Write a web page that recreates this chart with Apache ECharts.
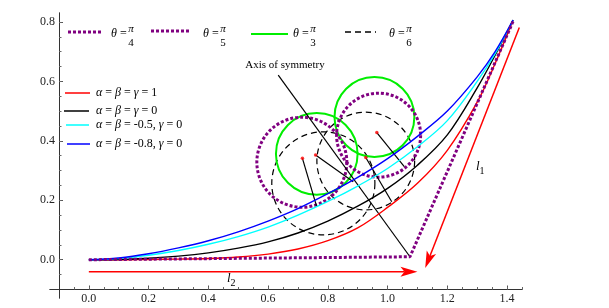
<!DOCTYPE html>
<html><head><meta charset="utf-8">
<script src="https://cdn.jsdelivr.net/npm/echarts@6/dist/echarts.min.js"></script>
<style>html,body{margin:0;padding:0;background:#fff}#c{width:609px;height:308px}</style>
</head><body><div id="c"></div>
<script>
// ---------- data ----------
const xTickValues = [0, 0.2, 0.4, 0.6, 0.8, 1.0, 1.2, 1.4];
const yTickValues = [0, 0.2, 0.4, 0.6, 0.8];
const xMinorTicks = [-0.05, 0, 0.05, 0.1, 0.15, 0.2, 0.25, 0.3, 0.35, 0.4, 0.45, 0.5, 0.55, 0.6, 0.65, 0.7, 0.75, 0.8, 0.85, 0.9, 0.95, 1.0, 1.05, 1.1, 1.15, 1.2, 1.25, 1.3, 1.35, 1.4, 1.45];
const yMinorTicks = [-0.05, 0, 0.05, 0.1, 0.15, 0.2, 0.25, 0.3, 0.35, 0.4, 0.45, 0.5, 0.55, 0.6, 0.65, 0.7, 0.75, 0.8];

const curveX = [0, 0.1, 0.2, 0.3, 0.4, 0.5, 0.6, 0.7, 0.8, 0.9, 1.0, 1.1, 1.2, 1.3, 1.36, 1.42];
const redY   = [0, 0.000, 0.001, 0.002, 0.004, 0.009, 0.019, 0.036, 0.064, 0.107, 0.176, 0.257, 0.368, 0.530, 0.660, 0.806];
const blackY = [0, 0.001, 0.005, 0.012, 0.023, 0.039, 0.060, 0.090, 0.130, 0.180, 0.240, 0.318, 0.420, 0.578, 0.688, 0.806];
const cyanY  = [0, 0.004, 0.015, 0.031, 0.052, 0.078, 0.110, 0.150, 0.196, 0.248, 0.307, 0.380, 0.468, 0.600, 0.693, 0.806];
const blueY  = [0, 0.006, 0.020, 0.040, 0.064, 0.094, 0.130, 0.172, 0.222, 0.277, 0.340, 0.415, 0.500, 0.615, 0.700, 0.806];

const purplePathX = [0, 1.075, 1.422];
const purplePathY = [0, 0.010, 0.806];

// circles: [centerX, centerY, radius]
const greenCircles  = [[0.763, 0.356, 0.137], [0.956, 0.480, 0.134]];
const purpleCircles = [[0.713, 0.328, 0.151], [0.970, 0.419, 0.141]];
const dashedCircles = [[0.785, 0.257, 0.173], [0.927, 0.332, 0.164]];

const centerDots = [[0.715, 0.341], [0.759, 0.352], [0.927, 0.344], [0.964, 0.428]];

// segments: [x1, y1, x2, y2]
const blackSegments = [
  [0.634, 0.621, 1.075, 0.010],   // axis of symmetry
  [0.715, 0.341, 0.763, 0.178],
  [0.759, 0.352, 0.885, 0.262],
  [0.927, 0.344, 1.014, 0.195],
  [0.964, 0.428, 1.056, 0.313]
];
const arrowSegments = [
  [0, -0.040, 1.100, -0.040],     // l2
  [1.441, 0.781, 1.126, -0.028]   // l1
];

const topLegendDen = ['4', '5', '3', '6'];
const sideLegendLabels = [
  '{i|α} = {i|β} = {i|γ} = 1',
  '{i|α} = {i|β} = {i|γ} = 0',
  '{i|α} = {i|β} = -0.5, {i|γ} = 0',
  '{i|α} = {i|β} = -0.8, {i|γ} = 0'
];

// ---------- chart ----------
const serif = '"Liberation Serif","DejaVu Serif",serif';
const PURPLE = '#800080';
const pairs = (xs, ys) => xs.map((x, i) => [x, ys[i]]);

const chart = echarts.init(document.getElementById('c'));

function circleSeries(data, style) {
  return {
    type: 'custom', coordinateSystem: 'cartesian2d', data: data, silent: true,
    renderItem: function (params, api) {
      const c = api.coord([api.value(0), api.value(1)]);
      const s = api.size([api.value(2), api.value(2)]);
      return { type: 'circle', shape: { cx: c[0], cy: c[1], r: (s[0] + s[1]) / 2 },
        style: Object.assign({ fill: 'none' }, style) };
    }
  };
}

const baseX = { type: 'value', min: -0.13, max: 1.45, position: 'bottom', offset: -8.5,
  splitLine: { show: false }, axisLine: { onZero: false, lineStyle: { color: '#333', width: 1 } } };
const baseY = { type: 'value', min: -0.1287, max: 0.83, position: 'left', offset: -9,
  splitLine: { show: false }, axisLine: { onZero: false, lineStyle: { color: '#333', width: 1 } } };

const labelStyle = { fontFamily: serif, fontSize: 12, color: '#222' };

function curve(ys, color) {
  return { type: 'line', data: pairs(curveX, ys), showSymbol: false, smooth: 0.35,
    lineStyle: { color: color, width: 1.4 } };
}

const option = {
  animation: false,
  grid: { left: 50, right: 87, top: 13, bottom: 10, containLabel: false },
  xAxis: [
    Object.assign({}, baseX, {
      axisTick: { inside: true, length: 4, customValues: xTickValues, lineStyle: { color: '#555' } },
      axisLabel: Object.assign({ customValues: xTickValues, margin: 3, formatter: v => v.toFixed(1) }, labelStyle)
    }),
    Object.assign({}, baseX, {
      axisTick: { inside: true, length: 2.5, customValues: xMinorTicks, lineStyle: { color: '#666' } },
      axisLabel: { show: false }
    })
  ],
  yAxis: [
    Object.assign({}, baseY, {
      axisTick: { inside: true, length: 4, customValues: yTickValues, lineStyle: { color: '#555' } },
      axisLabel: Object.assign({ customValues: yTickValues, margin: 4, formatter: v => v.toFixed(1) }, labelStyle)
    }),
    Object.assign({}, baseY, {
      axisTick: { inside: true, length: 2.5, customValues: yMinorTicks, lineStyle: { color: '#666' } },
      axisLabel: { show: false }
    })
  ],
  series: [
    curve(redY, '#ff0000'),
    curve(blackY, '#000000'),
    curve(cyanY, '#00ffff'),
    curve(blueY, '#0000ff'),
    circleSeries(dashedCircles, { stroke: '#000', lineWidth: 1.2, lineDash: [6, 4] }),
    circleSeries(greenCircles, { stroke: '#00ee00', lineWidth: 2 }),
    circleSeries(purpleCircles, { stroke: PURPLE, lineWidth: 3, lineDash: [3, 2] }),
    { type: 'line', data: pairs(purplePathX, purplePathY), showSymbol: false,
      lineStyle: { color: PURPLE, width: 3, type: [3, 2] } },
    {
      type: 'custom', coordinateSystem: 'cartesian2d', data: blackSegments, silent: true,
      renderItem: function (params, api) {
        const a = api.coord([api.value(0), api.value(1)]);
        const b = api.coord([api.value(2), api.value(3)]);
        return { type: 'line', shape: { x1: a[0], y1: a[1], x2: b[0], y2: b[1] },
          style: { stroke: '#000', lineWidth: 1.2 } };
      }
    },
    {
      type: 'custom', coordinateSystem: 'cartesian2d', data: arrowSegments, silent: true,
      renderItem: function (params, api) {
        const a = api.coord([api.value(0), api.value(1)]);
        const b = api.coord([api.value(2), api.value(3)]);
        const dx = b[0] - a[0], dy = b[1] - a[1];
        const L = Math.sqrt(dx * dx + dy * dy), ux = dx / L, uy = dy / L;
        const px = -uy, py = ux;
        const len = 17, hw = 5, notch = 13;
        const base = [b[0] - ux * len, b[1] - uy * len];
        const nb = [b[0] - ux * notch, b[1] - uy * notch];
        return { type: 'group', children: [
          { type: 'line', shape: { x1: a[0], y1: a[1], x2: nb[0], y2: nb[1] },
            style: { stroke: '#ff0000', lineWidth: 1.5 } },
          { type: 'polygon', shape: { points: [b, [base[0] + px * hw, base[1] + py * hw], nb, [base[0] - px * hw, base[1] - py * hw]] },
            style: { fill: '#ff0000' } }
        ] };
      }
    },
    { type: 'scatter', data: centerDots, symbolSize: 3.5, itemStyle: { color: '#ff0000' }, silent: true }
  ],
  graphic: []
};

// ---------- legends & annotations (graphic) ----------
const g = [];
const topKeys = [
  { x1: 68, x2: 101, y: 32, stroke: PURPLE, lw: 3, dash: [3, 2], tx: 111, fx: 131 },
  { x1: 151, x2: 191, y: 31, stroke: PURPLE, lw: 3, dash: [3, 2], tx: 203, fx: 223 },
  { x1: 251, x2: 288, y: 34, stroke: '#00ee00', lw: 2, dash: null, tx: 293, fx: 313 },
  { x1: 345, x2: 376, y: 32, stroke: '#000', lw: 1.3, dash: [6, 4], tx: 389, fx: 409 }
];
topKeys.forEach((k, i) => {
  g.push({ type: 'line', shape: { x1: k.x1, y1: k.y, x2: k.x2, y2: k.y },
    style: { stroke: k.stroke, lineWidth: k.lw, lineDash: k.dash } });
  g.push({ type: 'text', x: k.tx, y: 34, style: { text: '{i|θ} =', rich: { i: { fontStyle: 'italic', fontFamily: serif, fontSize: 12 } },
    fontFamily: serif, fontSize: 12, fill: '#000', verticalAlign: 'middle', align: 'left' } });
  g.push({ type: 'text', x: k.fx, y: 29, style: { text: 'π', fontFamily: serif, fontSize: 11, fontStyle: 'italic', fill: '#000', align: 'center', verticalAlign: 'middle' } });
  g.push({ type: 'text', x: k.fx, y: 43, style: { text: topLegendDen[i], fontFamily: serif, fontSize: 11, fill: '#000', align: 'center', verticalAlign: 'middle' } });
});
const sideKeys = [
  { x1: 65, x2: 90, y: 93, stroke: '#ff0000' },
  { x1: 64, x2: 89, y: 111, stroke: '#000000' },
  { x1: 66, x2: 89, y: 125, stroke: '#00ffff' },
  { x1: 67, x2: 90, y: 144, stroke: '#0000ff' }
];
sideKeys.forEach((k, i) => {
  g.push({ type: 'line', shape: { x1: k.x1, y1: k.y, x2: k.x2, y2: k.y }, style: { stroke: k.stroke, lineWidth: 1.5 } });
  g.push({ type: 'text', x: 96, y: k.y, style: { text: sideLegendLabels[i],
    rich: { i: { fontStyle: 'italic', fontFamily: serif, fontSize: 12 } },
    fontFamily: serif, fontSize: 12, fill: '#000', verticalAlign: 'middle', align: 'left' } });
});
g.push({ type: 'text', x: 285, y: 65, style: { text: 'Axis of symmetry', fontFamily: serif, fontSize: 11, fill: '#000', align: 'center', verticalAlign: 'middle' } });
g.push({ type: 'text', x: 476, y: 167, style: { text: '{l|l}{s|1}', rich: { l: { fontStyle: 'italic', fontFamily: serif, fontSize: 13 }, s: { fontFamily: serif, fontSize: 10, padding: [8, 0, 0, 0] } },
  fill: '#000', align: 'left', verticalAlign: 'middle' } });
g.push({ type: 'text', x: 227, y: 279, style: { text: '{l|l}{s|2}', rich: { l: { fontStyle: 'italic', fontFamily: serif, fontSize: 13 }, s: { fontFamily: serif, fontSize: 10, padding: [8, 0, 0, 0] } },
  fill: '#000', align: 'left', verticalAlign: 'middle' } });
option.graphic = g;

chart.setOption(option);
</script></body></html>
